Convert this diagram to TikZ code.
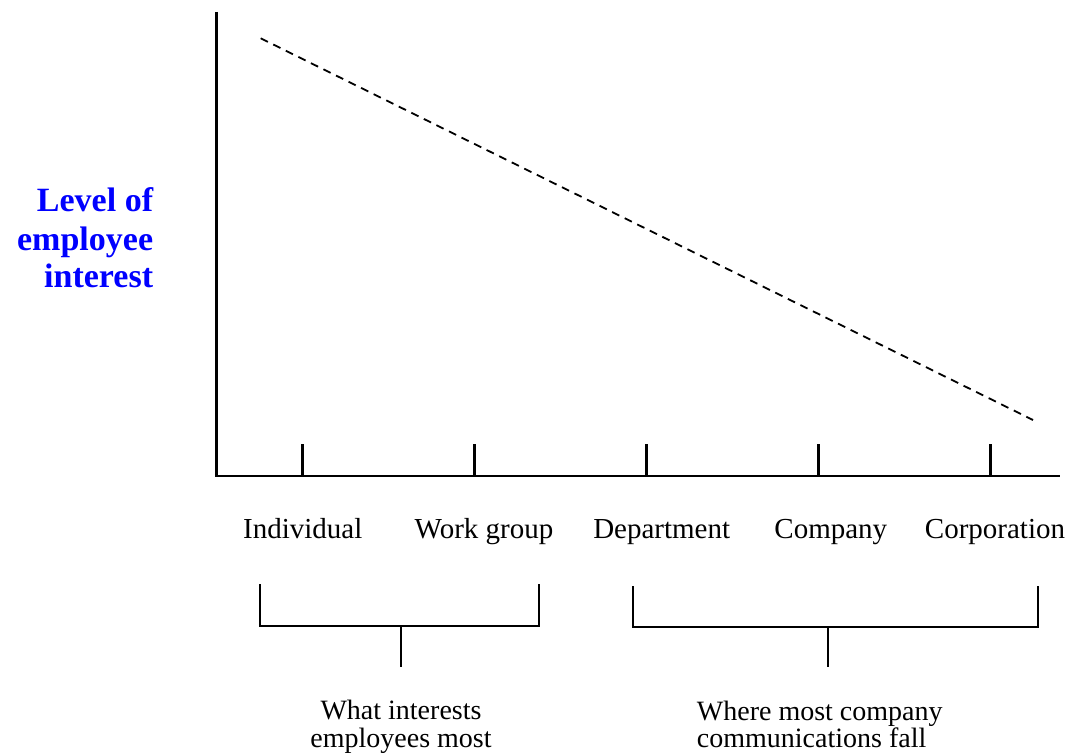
\documentclass[tikz,border=0pt]{standalone}
\usepackage{fontspec}
\setmainfont{Liberation Serif}
\begin{document}
\begin{tikzpicture}[x=1bp,y=-1bp,
  axis/.style={line width=2.5bp},
  tickmark/.style={line width=2.5bp},
  bracket/.style={line width=2bp},
  trend/.style={line width=1.8bp, dash pattern=on 8bp off 6bp},
  cat/.style={anchor=base, inner sep=0pt, font=\fontsize{29bp}{30bp}\selectfont},
  note/.style={inner sep=0pt, font=\fontsize{28bp}{29bp}\selectfont},
  ylabel/.style={anchor=base east, inner sep=0pt, text=blue,
    font=\fontsize{34bp}{38bp}\selectfont\bfseries}]
  \useasboundingbox (0,0) rectangle (1070,754);

  % axes
  \coordinate (ytop) at (216.7,12);
  \coordinate (O) at (216.7,476);
  \coordinate (xend) at (1060,476);
  \draw[axis] (ytop) -- (O) -- (xend);

  % tick marks
  \foreach \x in {302.3,474.3,646.7,818.3,990.7}
    \draw[tickmark] (\x,444) -- (\x,476);

  % trend of interest
  \coordinate (hi) at (260.7,38.3);
  \coordinate (lo) at (1033,420);
  \draw[trend] (hi) -- (lo);

  % vertical axis label
  \node[ylabel] (ylab1) at (153.3,211.7) {Level of};
  \node[ylabel] (ylab2) at (153.3,250) {employee};
  \node[ylabel] (ylab3) at (153.3,287) {interest};

  % categories
  \node[cat] (individual) at (302.8,538.3) {Individual};
  \node[cat] (workgroup) at (484,538.3) {Work group};
  \node[cat] (department) at (661.7,538.3) {Department};
  \node[cat] (company) at (830.8,538.3) {Company};
  \node[cat] (corporation) at (995,538.3) {Corporation};

  % left bracket
  \coordinate (la) at (260,584);
  \coordinate (lb) at (260,625.7);
  \coordinate (lc) at (539,625.7);
  \coordinate (ld) at (539,584);
  \coordinate (ls) at (401,625.7);
  \coordinate (le) at (401,666.7);
  \draw[bracket] (la) -- (lb) -- (lc) -- (ld);
  \draw[bracket] (ls) -- (le);

  % right bracket
  \coordinate (ra) at (633.3,586);
  \coordinate (rb) at (633.3,626.7);
  \coordinate (rc) at (1038.3,626.7);
  \coordinate (rd) at (1038.3,586);
  \coordinate (rs) at (827.7,626.7);
  \coordinate (re) at (827.7,666.7);
  \draw[bracket] (ra) -- (rb) -- (rc) -- (rd);
  \draw[bracket] (rs) -- (re);

  % bracket captions
  \node[note, anchor=base] (most1) at (401,719.5) {What interests};
  \node[note, anchor=base] (most2) at (401,747.5) {employees most};
  \node[note, anchor=base west] (comm1) at (696.7,720) {Where most company};
  \node[note, anchor=base west] (comm2) at (696.7,747.5) {communications fall};
\end{tikzpicture}
\end{document}
